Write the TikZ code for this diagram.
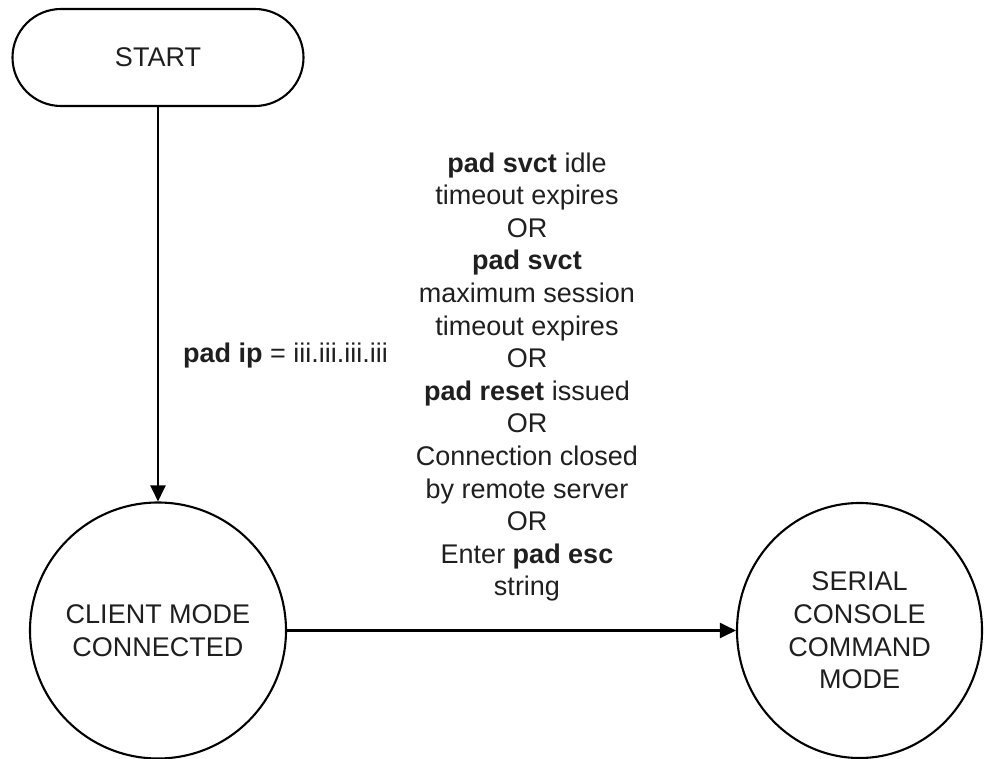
\documentclass[tikz,border=0pt]{standalone}
\usepackage{fontspec}
\setmainfont{Liberation Sans}
\usetikzlibrary{arrows.meta,shapes.geometric}

\begin{document}
\begin{tikzpicture}[x=1pt,y=-1pt,
  every node/.style={font=\fontsize{27}{32.6}\selectfont, text=black!88},
  line/.style={draw=black, line width=2.1pt},
  arrowline/.style={line, -{Triangle[length=16pt,width=15pt]}},
  terminal/.style={line, rectangle, rounded corners=48.5pt,
    minimum width=291pt, minimum height=97pt, inner sep=0pt},
  state/.style={line, circle, minimum size=256pt, inner sep=0pt, align=center},
  oval/.style={line, ellipse, minimum width=245pt, minimum height=255pt,
    inner sep=0pt, align=center},
  cond/.style={inner sep=0pt, align=center}
]
  \useasboundingbox (0,0) rectangle (984,759);

  % states
  \node[terminal] (start) at (158,57.5) {START};
  \node[state] (client) at (158,630.5) {CLIENT MODE\\CONNECTED};
  \node[oval] (serial) at (859.5,630.5) {SERIAL\\CONSOLE\\COMMAND\\MODE};

  % transitions
  \draw[arrowline] (start.south) -- (client.north);
  \draw[arrowline] (client.east) -- (serial.west);

  % transition conditions
  \node[cond, anchor=base west] (iplabel) at (183,362)
    {\textbf{pad ip} = iii.iii.iii.iii};
  \node[cond] (exitlabel) at (527,377)
    {\textbf{pad svct} idle\\timeout expires\\OR\\\textbf{pad svct}\\
     maximum session\\timeout expires\\OR\\\textbf{pad reset} issued\\OR\\
     Connection closed\\by remote server\\OR\\Enter \textbf{pad esc}\\string};
\end{tikzpicture}
\end{document}
